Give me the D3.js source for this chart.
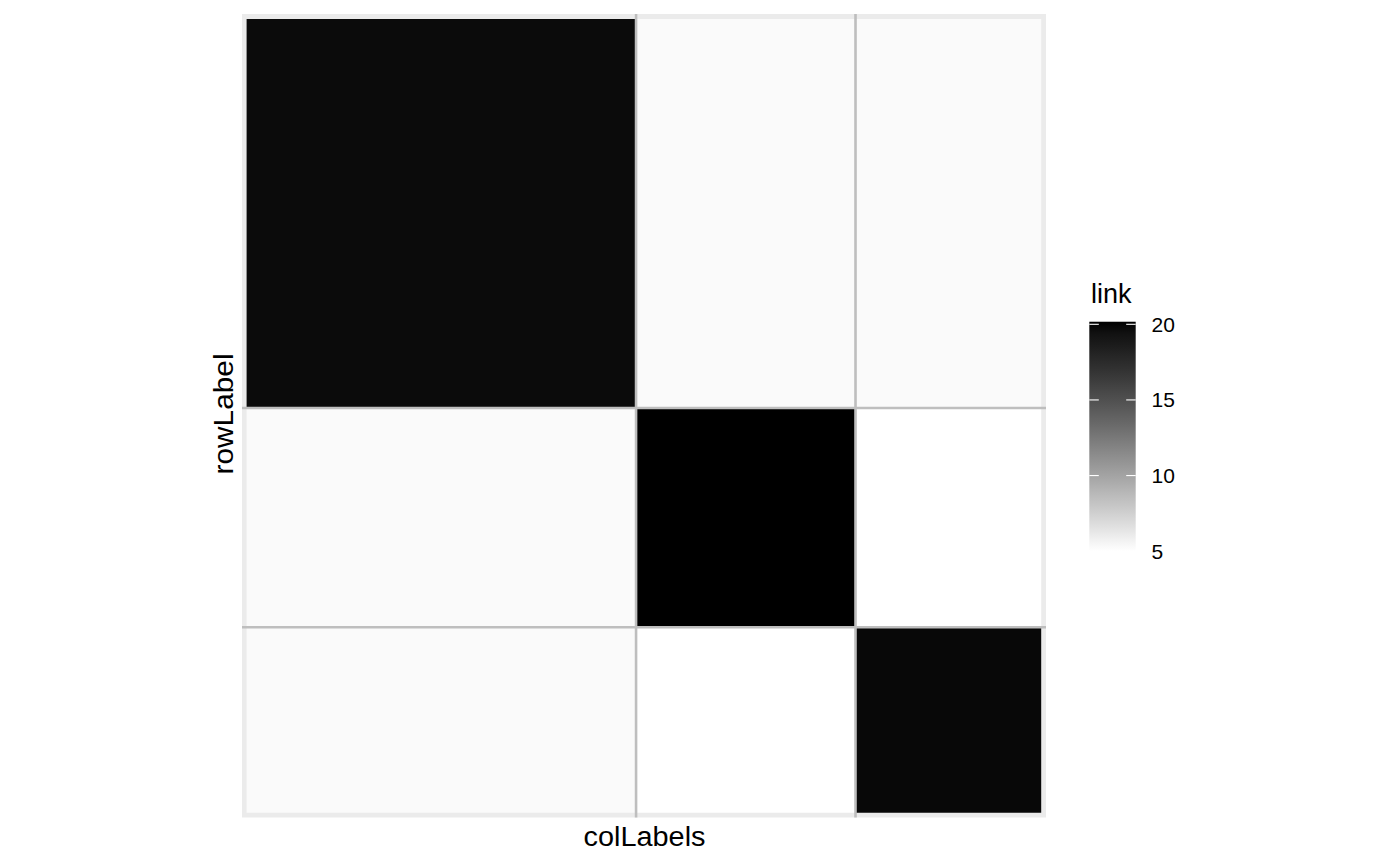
<!DOCTYPE html>
<html>
<head>
<meta charset="utf-8">
<script src="https://cdn.jsdelivr.net/npm/d3@7"></script>
<style>
  html, body { margin: 0; padding: 0; background: #fff; }
  svg { display: block; font-family: "Liberation Sans", Arial, Helvetica, sans-serif; }
</style>
</head>
<body>
<svg id="chart" width="1400" height="866"></svg>
<script>
// ---- data ----
const groups = ["1", "2", "3"];            // block labels (rows & columns)
const groupSizes = [50, 28, 24];            // block sizes -> tile widths/heights
const linkValues = [                        // link value per block (row x col)
  [19.70, 5.27, 5.27],
  [5.27, 20.17, 5.00],
  [5.27, 5.00, 19.84]
];
const legendTicks = [5, 10, 15, 20];
const xTitle = "colLabels";
const yTitle = "rowLabel";
const legendTitle = "link";

// ---- layout ----
const svg = d3.select("#chart");
const panel = { x0: 242, x1: 1046, y0: 14, y1: 817.5 };
const inner = { x0: 246.6, x1: 1041.2, y0: 19, y1: 812.8 };

const total = d3.sum(groupSizes);
const cum = [0]; groupSizes.forEach(s => cum.push(cum[cum.length - 1] + s));

const x = d3.scaleLinear().domain([0, total]).range([244.2, 1043.6]);
const y = d3.scaleLinear().domain([0, total]).range([16.4, 815.2]);

const allVals = linkValues.flat();
const vmin = d3.min(allVals), vmax = d3.max(allVals);
const color = d3.scaleLinear().domain([vmin, vmax])
  .range(["#ffffff", "#000000"]).interpolate(d3.interpolateLab);

// panel background
svg.append("rect")
  .attr("x", panel.x0).attr("y", panel.y0)
  .attr("width", panel.x1 - panel.x0).attr("height", panel.y1 - panel.y0)
  .attr("fill", "#EBEBEB");

svg.append("defs").append("clipPath").attr("id", "innerClip")
  .append("rect")
  .attr("x", inner.x0).attr("y", inner.y0)
  .attr("width", inner.x1 - inner.x0).attr("height", inner.y1 - inner.y0);

// tiles
const cells = [];
linkValues.forEach((row, i) => row.forEach((v, j) => cells.push({ i, j, v })));
svg.append("g").attr("clip-path", "url(#innerClip)")
  .selectAll("rect").data(cells).join("rect")
  .attr("x", d => x(cum[d.j]))
  .attr("y", d => y(cum[d.i]))
  .attr("width", d => x(cum[d.j + 1]) - x(cum[d.j]))
  .attr("height", d => y(cum[d.i + 1]) - y(cum[d.i]))
  .attr("fill", d => color(d.v))
  .attr("shape-rendering", "crispEdges");

// block separators
const innerBounds = cum.slice(1, -1);
svg.append("g").selectAll("line").data(innerBounds).join("line")
  .attr("x1", d => x(d)).attr("x2", d => x(d))
  .attr("y1", panel.y0).attr("y2", panel.y1)
  .attr("stroke", "#BEBEBE").attr("stroke-width", 2.6);
svg.append("g").selectAll("line").data(innerBounds).join("line")
  .attr("y1", d => y(d)).attr("y2", d => y(d))
  .attr("x1", panel.x0).attr("x2", panel.x1)
  .attr("stroke", "#BEBEBE").attr("stroke-width", 2.6);

// axis titles
svg.append("text")
  .attr("x", 644.5).attr("y", 846)
  .attr("text-anchor", "middle").attr("font-size", 27).attr("fill", "#000")
  .attr("textLength", 122).attr("lengthAdjust", "spacingAndGlyphs")
  .text(xTitle);
svg.append("text")
  .attr("transform", `translate(233,414) rotate(-90)`)
  .attr("text-anchor", "middle").attr("font-size", 27).attr("fill", "#000")
  .attr("textLength", 121).attr("lengthAdjust", "spacingAndGlyphs")
  .text(yTitle);

// legend
const lg = { x: 1089.3, w: 46.4 };
const ly = d3.scaleLinear().domain([5, 20]).range([551.2, 324.3]);
const grad = svg.select("defs").append("linearGradient").attr("id", "lg")
  .attr("x1", 0).attr("y1", 1).attr("x2", 0).attr("y2", 0);
d3.range(0, 1.0001, 0.05).forEach(t => {
  grad.append("stop").attr("offset", t)
    .attr("stop-color", color(vmin + t * (vmax - vmin)));
});
svg.append("rect")
  .attr("x", lg.x).attr("y", ly(vmax))
  .attr("width", lg.w).attr("height", ly(vmin) - ly(vmax))
  .attr("fill", "url(#lg)");

const tickLen = 9.5;
const tg = svg.append("g");
legendTicks.forEach(t => {
  tg.append("line").attr("x1", lg.x).attr("x2", lg.x + tickLen)
    .attr("y1", ly(t)).attr("y2", ly(t)).attr("stroke", "#fff").attr("stroke-width", 1.1);
  tg.append("line").attr("x1", lg.x + lg.w - tickLen).attr("x2", lg.x + lg.w)
    .attr("y1", ly(t)).attr("y2", ly(t)).attr("stroke", "#fff").attr("stroke-width", 1.1);
  tg.append("text").attr("x", 1151.5).attr("y", ly(t))
    .attr("dy", "0.36em").attr("font-size", 21).attr("fill", "#000")
    .text(t);
});

svg.append("text")
  .attr("x", 1091).attr("y", 303)
  .attr("font-size", 27).attr("fill", "#000")
  .text(legendTitle);
</script>
</body>
</html>
